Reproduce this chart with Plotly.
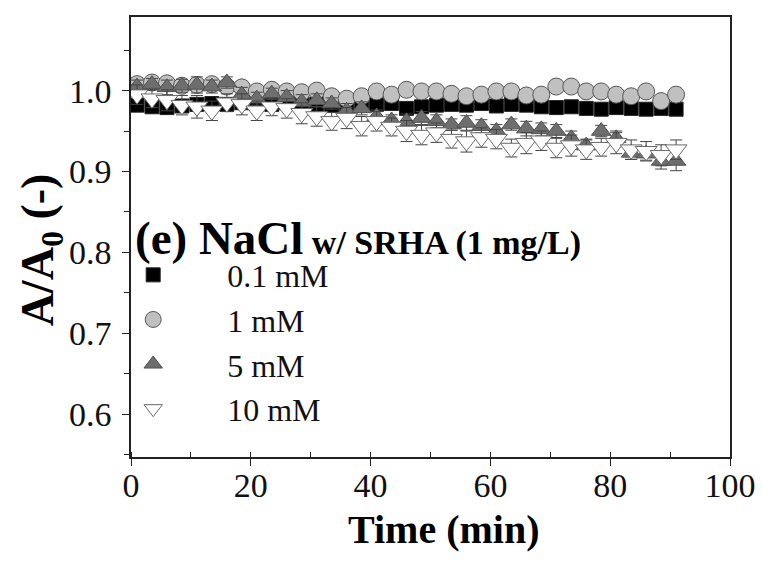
import plotly.graph_objects as go

# Data
time_min = [1, 3.5, 6, 8.5, 11, 13.5, 16, 18.5, 21, 23.5, 26, 28.5, 31, 33.5, 36, 38.5,
            41, 43.5, 46, 48.5, 51, 53.5, 56, 58.5, 61, 63.5, 66, 68.5, 71, 73.5, 76,
            78.5, 81, 83.5, 86, 88.5, 91]

nacl_01 = [0.982, 0.980, 0.979, 0.981, 0.983, 0.984, 0.983, 0.985, 0.984, 0.983, 0.985,
           0.984, 0.983, 0.982, 0.984, 0.985, 0.983, 0.984, 0.978, 0.980, 0.982, 0.983,
           0.982, 0.984, 0.981, 0.983, 0.982, 0.980, 0.979, 0.980, 0.978, 0.977, 0.979,
           0.978, 0.977, 0.978, 0.977]
nacl_01_err = [0.004, 0.003, 0.004, 0.003, 0.004, 0.004, 0.003, 0.004, 0.003, 0.004, 0.004,
               0.003, 0.004, 0.003, 0.004, 0.004, 0.003, 0.004, 0.004, 0.003, 0.004, 0.003,
               0.004, 0.004, 0.003, 0.004, 0.003, 0.004, 0.004, 0.003, 0.004, 0.003, 0.004,
               0.004, 0.003, 0.004, 0.004]

nacl_1 = [1.008, 1.010, 1.009, 1.006, 1.007, 1.008, 1.005, 1.004, 0.999, 1.001, 0.999,
          0.998, 1.000, 0.993, 0.990, 0.993, 0.999, 0.995, 1.001, 0.999, 0.999, 0.996,
          0.993, 0.995, 0.999, 0.999, 0.994, 0.995, 1.005, 1.005, 0.999, 0.999, 0.995,
          0.993, 0.999, 0.987, 0.995]
nacl_1_err = [0.005, 0.004, 0.005, 0.004, 0.006, 0.005, 0.004, 0.005, 0.004, 0.005, 0.004,
              0.005, 0.004, 0.005, 0.004, 0.005, 0.005, 0.004, 0.005, 0.004, 0.005, 0.005,
              0.004, 0.005, 0.004, 0.005, 0.004, 0.005, 0.006, 0.005, 0.004, 0.005, 0.004,
              0.005, 0.004, 0.005, 0.004]

nacl_5 = [1.005, 1.008, 1.004, 1.006, 1.007, 1.005, 1.010, 0.995, 0.990, 0.996, 0.992,
          0.986, 0.988, 0.984, 0.975, 0.978, 0.968, 0.963, 0.962, 0.966, 0.962, 0.958,
          0.960, 0.956, 0.950, 0.958, 0.953, 0.952, 0.950, 0.941, 0.932, 0.950, 0.941,
          0.923, 0.922, 0.913, 0.913]
nacl_5_err = [0.008, 0.007, 0.009, 0.008, 0.010, 0.008, 0.007, 0.009, 0.008, 0.007, 0.008,
              0.009, 0.008, 0.007, 0.009, 0.008, 0.008, 0.007, 0.009, 0.008, 0.008, 0.007,
              0.009, 0.008, 0.008, 0.007, 0.009, 0.008, 0.008, 0.009, 0.008, 0.007, 0.009,
              0.008, 0.008, 0.010, 0.012]

nacl_10 = [0.995, 0.990, 0.988, 0.982, 0.980, 0.975, 0.985, 0.983, 0.975, 0.980, 0.978,
           0.972, 0.968, 0.962, 0.966, 0.956, 0.962, 0.955, 0.950, 0.945, 0.948, 0.940,
           0.937, 0.942, 0.940, 0.929, 0.935, 0.938, 0.929, 0.932, 0.927, 0.930, 0.935,
           0.927, 0.925, 0.920, 0.927]
nacl_10_err = [0.012, 0.011, 0.013, 0.012, 0.014, 0.012, 0.011, 0.013, 0.012, 0.011, 0.012,
               0.013, 0.012, 0.011, 0.013, 0.012, 0.012, 0.011, 0.013, 0.012, 0.012, 0.011,
               0.013, 0.012, 0.012, 0.011, 0.013, 0.012, 0.012, 0.013, 0.012, 0.011, 0.013,
               0.012, 0.012, 0.013, 0.012]

x_ticks = [0, 20, 40, 60, 80, 100]
y_ticks = [0.6, 0.7, 0.8, 0.9, 1.0]
y_tick_text = ["0.6", "0.7", "0.8", "0.9", "1.0"]

FONT = "Liberation Serif, Times New Roman, serif"
AX = "#222222"

series = [
    ("0.1 mM", nacl_01, nacl_01_err, "square", 14, "#000000", "#222222"),
    ("1 mM", nacl_1, nacl_1_err, "circle", 17, "#c0c0c0", "#555555"),
    ("5 mM", nacl_5, nacl_5_err, "triangle-up", 17, "#6e6e6e", "#505050"),
    ("10 mM", nacl_10, nacl_10_err, "triangle-down", 19, "#ffffff", "#6a6a6a"),
]

fig = go.Figure()
for name, vals, errs, sym, size, fill, edge in series:
    fig.add_trace(go.Scatter(
        x=time_min, y=vals, mode="markers", name=name,
        marker=dict(symbol=sym, size=size, color=fill, line=dict(color=edge, width=1)),
        error_y=dict(type="data", array=errs, visible=True, color="#444444",
                     thickness=1, width=6),
    ))

# page body has an 8px margin, so the figure is sized/margined to compensate
fig.update_layout(
    width=755, height=564,
    margin=dict(l=123, r=31, t=7, b=115),
    paper_bgcolor="white", plot_bgcolor="white",
    font=dict(family=FONT, size=34, color="#111111"),
    showlegend=True,
    legend=dict(x=-0.0865, y=0.476, xanchor="left", yanchor="top",
                bgcolor="rgba(0,0,0,0)", font=dict(family=FONT, size=32, color="#111111"),
                itemwidth=138, tracegroupgap=0),
)

fig.update_xaxes(range=[0, 100], tickvals=x_ticks, showline=True, linecolor=AX,
                 linewidth=1.5, mirror=True, ticks="outside", ticklen=7, tickcolor=AX,
                 tickwidth=1.2, showgrid=False, zeroline=False, ticklabelstandoff=-10,
                 tickfont=dict(family=FONT, size=34),
                 minor=dict(dtick=10, ticks="inside", ticklen=5, tickcolor=AX, showgrid=False))
fig.update_yaxes(range=[0.547, 1.091], tickvals=y_ticks, ticktext=y_tick_text,
                 showline=True, linecolor=AX, linewidth=1.5, mirror=True, ticks="outside",
                 ticklen=7, tickcolor=AX, tickwidth=1.2, showgrid=False, zeroline=False,
                 ticklabelstandoff=4,
                 tickfont=dict(family=FONT, size=34),
                 minor=dict(tickvals=[0.55, 0.65, 0.75, 0.85, 0.95, 1.05], ticks="outside",
                            ticklen=5, tickcolor=AX, showgrid=False))

fig.add_annotation(xref="paper", yref="paper", x=0.003, y=0.497, xanchor="left", yanchor="middle",
                   showarrow=False,
                   text="<b>(e) NaCl</b><b><span style='font-size:34px'> w/ SRHA (1 mg/L)</span></b>",
                   font=dict(family=FONT, size=47, color="#000000"))
fig.add_annotation(xref="paper", yref="paper", x=-0.15, y=0.47, xanchor="center", yanchor="middle",
                   textangle=-90, showarrow=False,
                   text="<b>A/A<sub>0</sub> (-)</b>",
                   font=dict(family=FONT, size=46, color="#000000"))
fig.add_annotation(xref="paper", yref="paper", x=0.522, y=-0.165, xanchor="center", yanchor="middle",
                   showarrow=False, text="<b>Time (min)</b>",
                   font=dict(family=FONT, size=40, color="#000000"))

fig.write_html("out.html")
